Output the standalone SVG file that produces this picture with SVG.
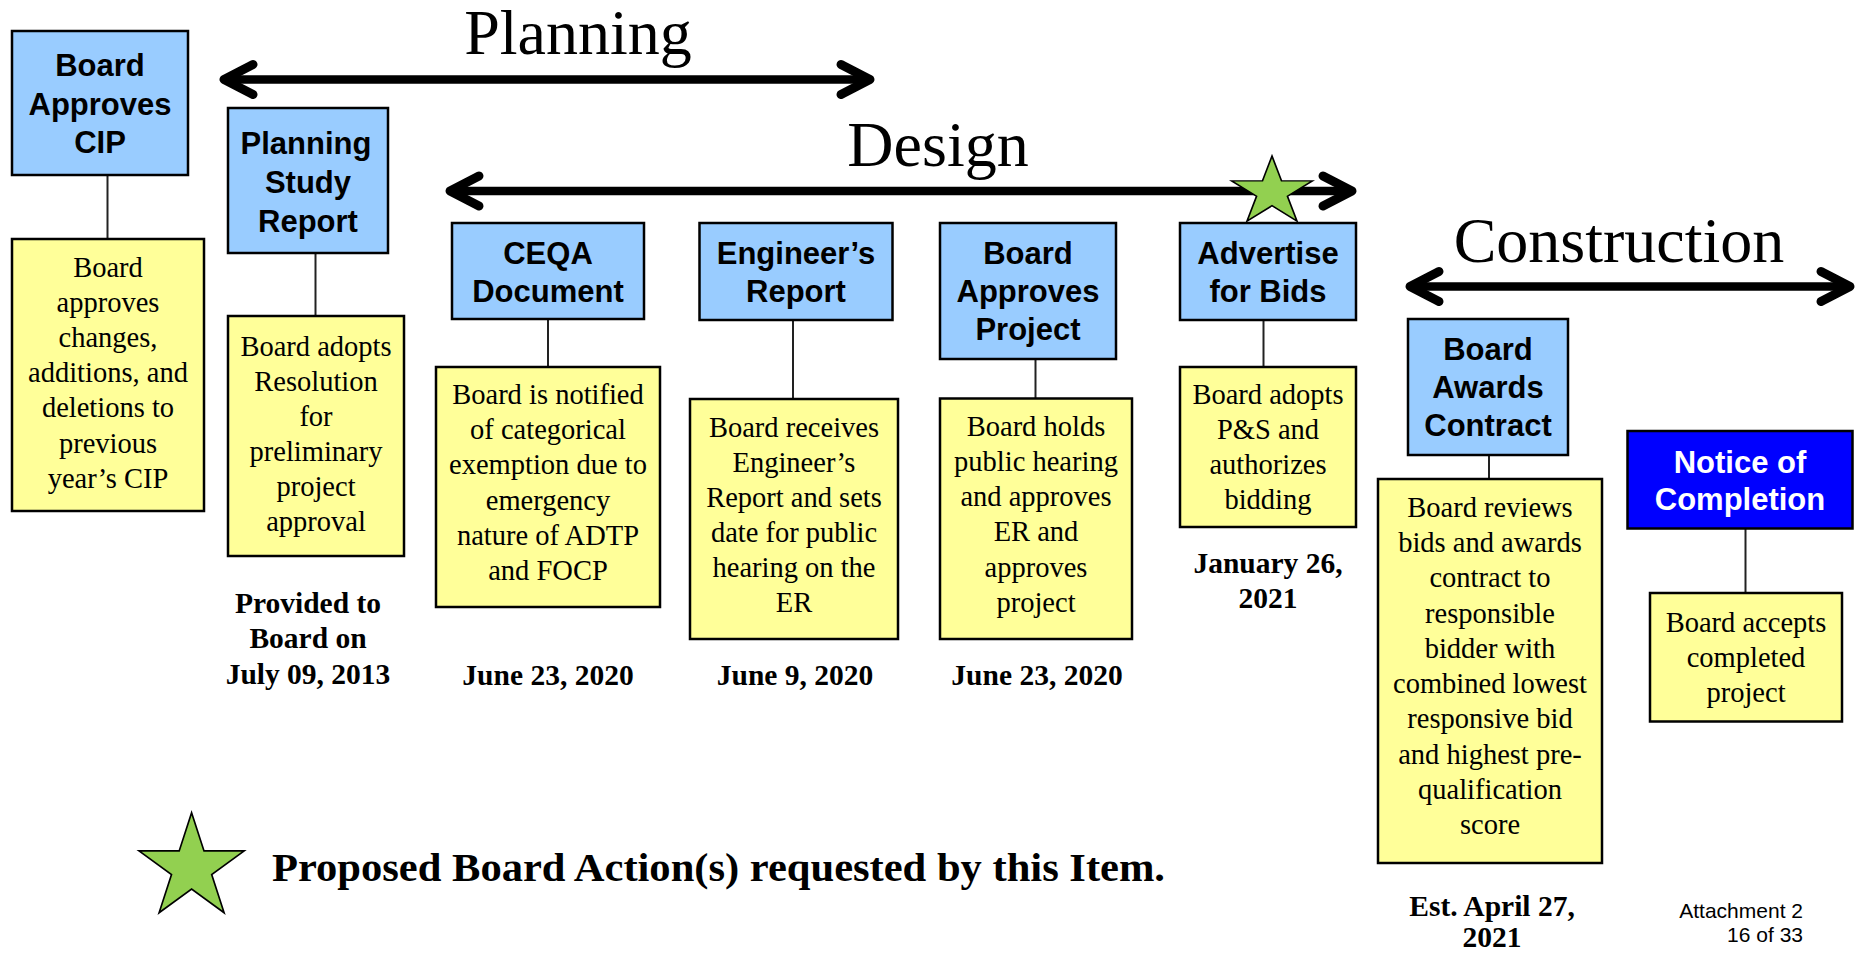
<svg xmlns="http://www.w3.org/2000/svg" width="1858" height="953" viewBox="0 0 1858 953">
<style>
.bg{fill:#ffffff}
.blue{fill:#99CCFF;stroke:#000;stroke-width:2.5}
.dblue{fill:#0000FF;stroke:#000;stroke-width:2.5}
.yel{fill:#FFFF99;stroke:#000;stroke-width:2.5}
.hd{font-family:"Liberation Sans",Arial,sans-serif;font-weight:bold;font-size:31px;text-anchor:middle;fill:#000}
.hdw{fill:#fff}
.body{font-family:"Liberation Serif","Times New Roman",serif;font-size:28.5px;text-anchor:middle;fill:#000}
.date{font-family:"Liberation Serif","Times New Roman",serif;font-weight:bold;font-size:29.5px;text-anchor:middle;fill:#000}
.phase{font-family:"Liberation Serif","Times New Roman",serif;font-size:64px;text-anchor:middle;fill:#000}
.legend{font-family:"Liberation Serif","Times New Roman",serif;font-weight:bold;font-size:41px;fill:#000}
.att{font-family:"Liberation Sans",Arial,sans-serif;font-size:21px;text-anchor:end;fill:#000}
.conn{stroke:#222;stroke-width:2;fill:none}
.arrow{stroke:#000;stroke-width:8.5;fill:none;marker-start:url(#chev);marker-end:url(#chev)}
.star{fill:#92D050;stroke:#000;stroke-width:1.5;stroke-linejoin:miter}
</style>
<defs>
<marker id="chev" markerUnits="userSpaceOnUse" viewBox="-45 -30 60 60" refX="0" refY="0" markerWidth="60" markerHeight="60" orient="auto-start-reverse" overflow="visible">
<path d="M-29,-15 L0,0 L-29,15" fill="none" stroke="#000" stroke-width="9" stroke-linecap="round" stroke-linejoin="round"/>
</marker>
<polygon id="starShape" points="0,-1 0.2245,-0.309 0.951,-0.309 0.3633,0.118 0.5878,0.809 0,0.382 -0.5878,0.809 -0.3633,0.118 -0.951,-0.309 -0.2245,-0.309"/>
</defs>
<rect class="bg" x="0" y="0" width="1858" height="953"/>

<g id="phases">
<text class="phase" x="578" y="54">Planning</text>
<text class="phase" x="938" y="166">Design</text>
<text class="phase" x="1619" y="262">Construction</text>
</g>

<g id="connectors">
<line class="arrow" x1="224" y1="79.5" x2="870" y2="79.5"/>
<line class="arrow" x1="450" y1="191" x2="1352" y2="191"/>
<line class="arrow" x1="1410" y1="286.5" x2="1850" y2="286.5"/>
<line class="conn" x1="107.5" y1="175" x2="107.5" y2="239"/>
<line class="conn" x1="315.5" y1="253" x2="315.5" y2="316"/>
<line class="conn" x1="548" y1="319" x2="548" y2="367"/>
<line class="conn" x1="793" y1="320" x2="793" y2="399"/>
<line class="conn" x1="1035.5" y1="359" x2="1035.5" y2="398"/>
<line class="conn" x1="1263.5" y1="320" x2="1263.5" y2="367"/>
<line class="conn" x1="1489" y1="455" x2="1489" y2="479"/>
<line class="conn" x1="1745.5" y1="528.5" x2="1745.5" y2="593"/>
</g>

<g id="star-design">
<use href="#starShape" class="star" transform="translate(1272,192) scale(42.5,36)" style="stroke-width:0.04"/>
</g>

<g id="n1">
<rect class="blue" x="12" y="31" width="176" height="144"/>
<text class="hd" x="100" y="76">Board</text>
<text class="hd" x="100" y="115">Approves</text>
<text class="hd" x="100" y="153">CIP</text>
</g>
<g id="n1d">
<rect class="yel" x="12" y="239" width="192" height="272"/>
<text class="body" x="108" y="277">Board</text>
<text class="body" x="108" y="312">approves</text>
<text class="body" x="108" y="347">changes,</text>
<text class="body" x="108" y="382">additions, and</text>
<text class="body" x="108" y="417">deletions to</text>
<text class="body" x="108" y="452.5">previous</text>
<text class="body" x="108" y="487.5">year’s CIP</text>
</g>

<g id="n2">
<rect class="blue" x="228" y="108" width="160" height="145"/>
<text class="hd" x="306" y="154">Planning</text>
<text class="hd" x="308" y="193">Study</text>
<text class="hd" x="308" y="231.5">Report</text>
</g>
<g id="n2d">
<rect class="yel" x="228" y="316" width="176" height="240"/>
<text class="body" x="316" y="355.5">Board adopts</text>
<text class="body" x="316" y="390.5">Resolution</text>
<text class="body" x="316" y="425.5">for</text>
<text class="body" x="316" y="460.5">preliminary</text>
<text class="body" x="316" y="495.5">project</text>
<text class="body" x="316" y="530.5">approval</text>
<text class="date" x="308" y="612.5">Provided to</text>
<text class="date" x="308" y="648">Board on</text>
<text class="date" x="308" y="684">July 09, 2013</text>
</g>

<g id="n3">
<rect class="blue" x="452" y="223" width="192" height="96"/>
<text class="hd" x="548" y="263.5">CEQA</text>
<text class="hd" x="548" y="302">Document</text>
</g>
<g id="n3d">
<rect class="yel" x="436" y="367" width="224" height="240"/>
<text class="body" x="548" y="404">Board is notified</text>
<text class="body" x="548" y="439.2">of categorical</text>
<text class="body" x="548" y="474.4">exemption due to</text>
<text class="body" x="548" y="509.6">emergency</text>
<text class="body" x="548" y="544.8">nature of ADTP</text>
<text class="body" x="548" y="580">and FOCP</text>
<text class="date" x="548" y="685">June 23, 2020</text>
</g>

<g id="n4">
<rect class="blue" x="699.5" y="223" width="193" height="97"/>
<text class="hd" x="796" y="263.5">Engineer’s</text>
<text class="hd" x="796" y="302">Report</text>
</g>
<g id="n4d">
<rect class="yel" x="690" y="399" width="208" height="240"/>
<text class="body" x="794" y="436.7">Board receives</text>
<text class="body" x="794" y="471.8">Engineer’s</text>
<text class="body" x="794" y="506.9">Report and sets</text>
<text class="body" x="794" y="542">date for public</text>
<text class="body" x="794" y="577.1">hearing on the</text>
<text class="body" x="794" y="612.3">ER</text>
<text class="date" x="795" y="685">June 9, 2020</text>
</g>

<g id="n5">
<rect class="blue" x="940" y="223" width="176" height="136"/>
<text class="hd" x="1028" y="263.5">Board</text>
<text class="hd" x="1028" y="302">Approves</text>
<text class="hd" x="1028" y="339.5">Project</text>
</g>
<g id="n5d">
<rect class="yel" x="940" y="398.5" width="192" height="240.5"/>
<text class="body" x="1036" y="436">Board holds</text>
<text class="body" x="1036" y="471.1">public hearing</text>
<text class="body" x="1036" y="506.3">and approves</text>
<text class="body" x="1036" y="541.4">ER and</text>
<text class="body" x="1036" y="576.5">approves</text>
<text class="body" x="1036" y="611.7">project</text>
<text class="date" x="1037" y="685">June 23, 2020</text>
</g>

<g id="n6">
<rect class="blue" x="1180" y="223" width="176" height="97"/>
<text class="hd" x="1268" y="263.5">Advertise</text>
<text class="hd" x="1268" y="302">for Bids</text>
</g>
<g id="n6d">
<rect class="yel" x="1180" y="367" width="176" height="160"/>
<text class="body" x="1268" y="403.5">Board adopts</text>
<text class="body" x="1268" y="438.5">P&amp;S and</text>
<text class="body" x="1268" y="473.5">authorizes</text>
<text class="body" x="1268" y="508.5">bidding</text>
<text class="date" x="1268" y="573">January 26,</text>
<text class="date" x="1268" y="608">2021</text>
</g>

<g id="n7">
<rect class="blue" x="1408" y="319" width="160" height="136"/>
<text class="hd" x="1488" y="360">Board</text>
<text class="hd" x="1488" y="398">Awards</text>
<text class="hd" x="1488" y="435.5">Contract</text>
</g>
<g id="n7d">
<rect class="yel" x="1378" y="479" width="224" height="384"/>
<text class="body" x="1490" y="517">Board reviews</text>
<text class="body" x="1490" y="552.2">bids and awards</text>
<text class="body" x="1490" y="587.4">contract to</text>
<text class="body" x="1490" y="622.7">responsible</text>
<text class="body" x="1490" y="657.9">bidder with</text>
<text class="body" x="1490" y="693.1">combined lowest</text>
<text class="body" x="1490" y="728.3">responsive bid</text>
<text class="body" x="1490" y="763.6">and highest pre-</text>
<text class="body" x="1490" y="798.8">qualification</text>
<text class="body" x="1490" y="834">score</text>
<text class="date" x="1492" y="916">Est. April 27,</text>
<text class="date" x="1492" y="947">2021</text>
</g>

<g id="n8">
<rect class="dblue" x="1627.5" y="431" width="225" height="97.5"/>
<text class="hd hdw" x="1740" y="472.5">Notice of</text>
<text class="hd hdw" x="1740" y="510">Completion</text>
</g>
<g id="n8d">
<rect class="yel" x="1650" y="593" width="192" height="128.5"/>
<text class="body" x="1746" y="631.5">Board accepts</text>
<text class="body" x="1746" y="666.5">completed</text>
<text class="body" x="1746" y="701.5">project</text>
</g>

<g id="legend">
<use href="#starShape" class="star" transform="translate(191.6,868) scale(55.3,55.3)" style="stroke-width:0.03"/>
<text class="legend" x="272" y="881" textLength="893" lengthAdjust="spacingAndGlyphs">Proposed Board Action(s) requested by this Item.</text>
</g>

<g id="footer">
<text class="att" x="1803" y="918">Attachment 2</text>
<text class="att" x="1803" y="942">16 of 33</text>
</g>
</svg>
